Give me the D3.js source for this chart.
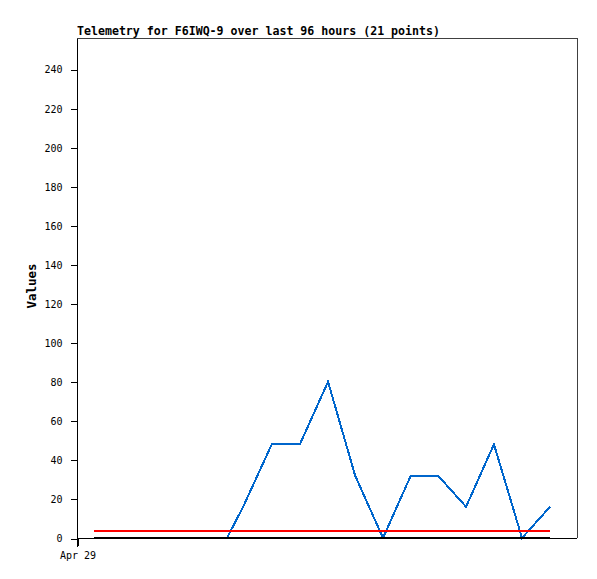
<!DOCTYPE html>
<html><head><meta charset="utf-8">
<script src="https://cdn.jsdelivr.net/npm/d3@7"></script>
<style>body{margin:0;background:#fff}svg{display:block}</style>
</head><body>
<script>
const title = "Telemetry for F6IWQ-9 over last 96 hours (21 points)";
const yLabel = "Values";
// hours since Apr 29 00:00
const hours = [3.26, 6.45, 9.64, 12.84, 16.03, 19.22, 22.42, 25.61, 28.8, 31.9, 37.4, 42.8, 48.2, 53.4, 58.75, 64.1, 69.3, 74.7, 80.06, 85.44, 90.82];
const seriesBlue = [0,0,0,0,0,0,0,0,0,16,48,48,80,32,0,32,32,16,48,0,16];
const seriesRed = [3.7,3.7,3.7,3.7,3.7,3.7,3.7,3.7,3.7,3.7,3.7,3.7,3.7,3.7,3.7,3.7,3.7,3.7,3.7,3.7,3.7];
const seriesBlack = [0,0,0,0,0,0,0,0,0,0,0,0,0,0,0,0,0,0,0,0,0];
const yTicks = [0,20,40,60,80,100,120,140,160,180,200,220,240];
const xTickHours = [0];
const xTickLabels = ["Apr 29"];

const W = 597, H = 579;
const L = 77, R = 577, T = 38, B = 538;
const svg = d3.select("body").append("svg").attr("width", W).attr("height", H);
const x = d3.scaleLinear().domain([0, 96]).range([L, R]);
const y = d3.scaleLinear().domain([0, 256]).range([B, T]);

// frame
svg.append("path").attr("d", `M${L},${T+0.5}H${R+0.5}V${B}`).attr("fill","none")
  .attr("stroke","#404040").attr("stroke-width",1).attr("shape-rendering","crispEdges");
svg.append("line").attr("x1",L).attr("x2",R).attr("y1",B+0.5).attr("y2",B+0.5)
  .attr("stroke","#000").attr("shape-rendering","crispEdges");

// y axis
const ya = svg.append("g").attr("transform", `translate(${L+0.5},0.5)`)
  .call(d3.axisLeft(y).tickValues(yTicks).tickSize(7).tickPadding(8).tickFormat(d3.format("d")));
ya.select(".domain").attr("d", `M0,${T}V${B+8}`).attr("stroke","#000");
ya.selectAll("line").attr("stroke","#000");
ya.selectAll("path,line").attr("shape-rendering","crispEdges");
ya.selectAll("text").attr("font-family","DejaVu Sans Mono").attr("font-size",10).attr("fill","#000");

// x axis tick
const xa = svg.append("g").attr("transform", `translate(0.5,${B})`)
  .call(d3.axisBottom(x).tickValues(xTickHours).tickSize(8).tickPadding(6).tickFormat((d,i)=>xTickLabels[i]));
xa.select(".domain").remove();
xa.selectAll("line").attr("stroke","#000").attr("shape-rendering","crispEdges");
xa.selectAll("text").attr("font-family","DejaVu Sans Mono").attr("font-size",10).attr("fill","#000");

// series
const line = (vals) => d3.line().x((d,i)=>x(hours[i])).y(d=>y(d))(vals);
svg.append("path").attr("d", line(seriesBlue)).attr("fill","none").attr("stroke","#0066cc").attr("stroke-width",2).attr("shape-rendering","crispEdges");
svg.append("path").attr("d", line(seriesRed)).attr("fill","none").attr("stroke","#ff0000").attr("stroke-width",2).attr("shape-rendering","crispEdges");
svg.append("path").attr("d", line(seriesBlack)).attr("fill","none").attr("stroke","#000").attr("stroke-width",2).attr("shape-rendering","crispEdges");

// title
svg.append("text").attr("x", L).attr("y", 35).text(title)
  .attr("font-family","DejaVu Sans Mono").attr("font-weight","bold").attr("font-size",11.6).attr("fill","#000");
// y label
svg.append("text").attr("transform","translate(36,286) rotate(-90)").attr("text-anchor","middle").text(yLabel)
  .attr("font-family","DejaVu Sans Mono").attr("font-weight","bold").attr("font-size",12.5).attr("fill","#000");
</script>
</body></html>
